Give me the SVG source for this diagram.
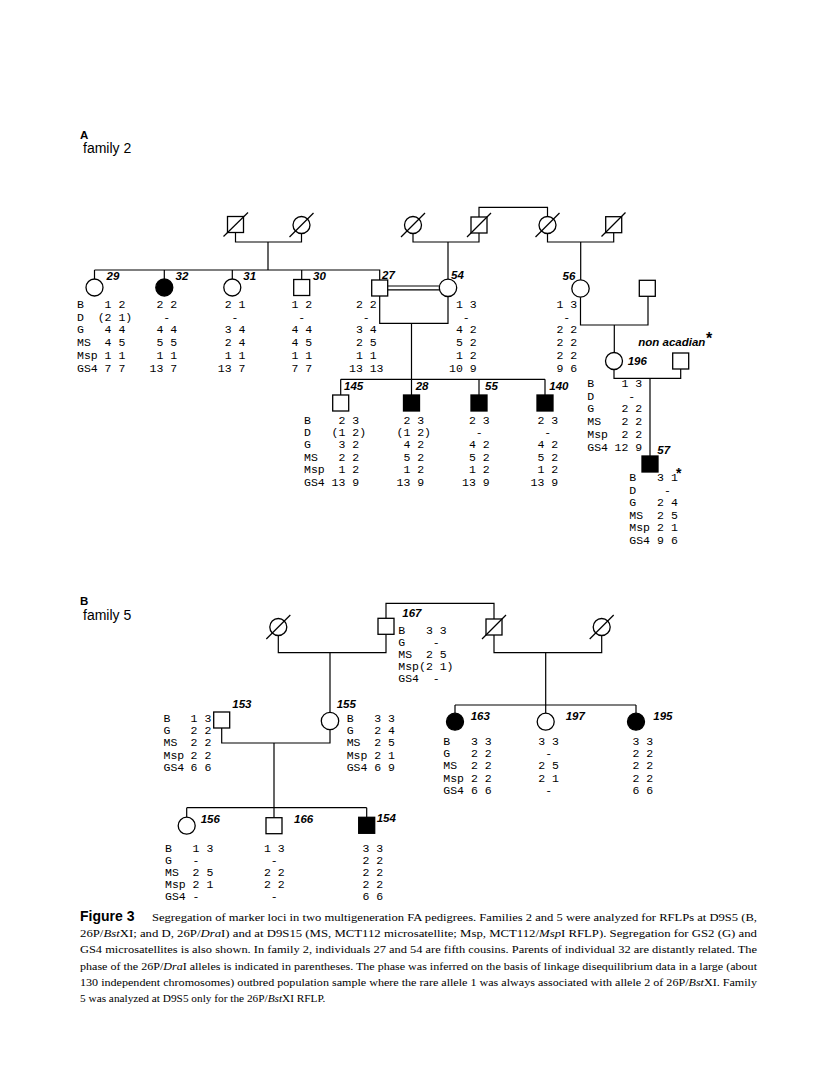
<svg xmlns="http://www.w3.org/2000/svg" width="816" height="1081" viewBox="0 0 816 1081">
<style>
.ln{stroke:#000;stroke-width:1.2;fill:none}
.sym{stroke:#000;stroke-width:1.3;fill:#fff}
.aff{stroke:#000;stroke-width:1.3;fill:#000}
.dec{stroke:#000;stroke-width:1.2}
.id{font-family:"Liberation Sans",Arial,sans-serif;font-weight:bold;font-style:italic;font-size:11.5px}
.dat{font-family:"Liberation Mono","Courier New",monospace;font-size:11.5px;white-space:pre}
.ttl{font-family:"Liberation Sans",Arial,sans-serif;font-size:14px}
.pl{font-family:"Liberation Sans",Arial,sans-serif;font-weight:bold;font-size:11.5px}
.cap{font-family:"Liberation Serif","Times New Roman",serif;font-size:11.3px}
.star{font-family:"Liberation Sans",Arial,sans-serif;font-weight:bold}
</style>
<rect width="816" height="1081" fill="#fff"/>
<text class="pl" x="80" y="138.5">A</text>
<text class="ttl" x="83" y="152.5">family 2</text>
<text class="pl" x="80" y="605">B</text>
<text class="ttl" x="83" y="620">family 5</text>

<g id="connectors">
<path class="ln" d="M235.5,233 V242 H301.5 V233.5 M268,242 V270"/>
<path class="ln" d="M94.5,270 H379.7 V280 M94.5,270 V279 M164.3,270 V279 M232.3,270 V279 M301.7,270 V279.5"/>
<path class="ln" d="M387.7,286 H439.5 M387.7,289.8 H439.5"/>
<path class="ln" d="M413,233.5 V242 H479 V233 M448,242 V279"/>
<path class="ln" d="M479,217 V207.3 H547.5 V216.5"/>
<path class="ln" d="M547.5,233.5 V242 H613.7 V232.7 M580.7,242 V280"/>
<path class="ln" d="M580.5,297 V325 H648 V296.5 M614.3,325 V352.5"/>
<path class="ln" d="M614,369.5 V378.3 H680.7 V369 M650,378.3 V456"/>
<path class="ln" d="M379.7,296 V323.3 H448 V296 M411.5,323.3 V395"/>
<path class="ln" d="M340.7,379.3 H545 M340.7,379.3 V395 M479,379.3 V395 M545,379.3 V395"/>
<path class="ln" d="M386,618.3 V603.3 H494 V619"/>
<path class="ln" d="M278.3,635.5 V652.7 H386 V634.3 M330,652.7 V712.5"/>
<path class="ln" d="M494,635 V652.7 H601.7 V635.5 M545.7,652.7 V713.2"/>
<path class="ln" d="M455,705 H636 M455,705 V713.2 M636,705 V713.2"/>
<path class="ln" d="M221.7,728 V743 H330 V729.5 M274,743 V817.7"/>
<path class="ln" d="M186.7,807.7 H366.7 M186.7,807.7 V817.2 M366.7,807.7 V817.3"/>
</g>

<!-- Family 2 generation I -->
<g id="f2-gp1-father"><rect class="sym" x="227.5" y="216.5" width="16" height="16"/><line class="dec" x1="223.5" y1="236.5" x2="248" y2="212.5"/></g>
<g id="f2-gp1-mother"><circle class="sym" cx="301.5" cy="225" r="8.5"/><line class="dec" x1="289.5" y1="237" x2="313.5" y2="213"/></g>
<g id="f2-gp2-mother"><circle class="sym" cx="413" cy="225" r="8.5"/><line class="dec" x1="401" y1="237" x2="425" y2="213"/></g>
<g id="f2-gp2-father"><rect class="sym" x="471" y="217" width="16" height="16"/><line class="dec" x1="467" y1="237" x2="491" y2="213"/></g>
<g id="f2-gp3-mother"><circle class="sym" cx="547.5" cy="225" r="8.5"/><line class="dec" x1="535.5" y1="237" x2="559.5" y2="213"/></g>
<g id="f2-gp3-father"><rect class="sym" x="605.7" y="216.7" width="16" height="16"/><line class="dec" x1="601.5" y1="236.5" x2="625.5" y2="212.5"/></g>

<!-- Family 2 generation II -->
<g id="n29"><circle class="sym" cx="94.5" cy="287.5" r="8.5"/><text class="id" x="106.5" y="280">29</text>
<text class="dat" xml:space="preserve"><tspan x="77" y="308">B</tspan><tspan x="77" y="320.7">D</tspan><tspan x="77" y="333.4">G</tspan><tspan x="77" y="346.1">MS</tspan><tspan x="77" y="358.8">Msp</tspan><tspan x="77" y="371.5">GS4</tspan></text>
<text class="dat" xml:space="preserve"><tspan x="97.7" y="308"> 1 2</tspan><tspan x="97.7" y="320.7">(2 1)</tspan><tspan x="97.7" y="333.4"> 4 4</tspan><tspan x="97.7" y="346.1"> 4 5</tspan><tspan x="97.7" y="358.8"> 1 1</tspan><tspan x="97.7" y="371.5"> 7 7</tspan></text></g>
<g id="n32"><circle class="aff" cx="164.3" cy="287.5" r="8.5"/><text class="id" x="175.5" y="280">32</text>
<text class="dat" xml:space="preserve"><tspan x="149.5" y="308"> 2 2</tspan><tspan x="149.5" y="320.7">  -</tspan><tspan x="149.5" y="333.4"> 4 4</tspan><tspan x="149.5" y="346.1"> 5 5</tspan><tspan x="149.5" y="358.8"> 1 1</tspan><tspan x="149.5" y="371.5">13 7</tspan></text></g>
<g id="n31"><circle class="sym" cx="232.3" cy="287.5" r="8.5"/><text class="id" x="243.3" y="280">31</text>
<text class="dat" xml:space="preserve"><tspan x="217.8" y="308"> 2 1</tspan><tspan x="217.8" y="320.7">  -</tspan><tspan x="217.8" y="333.4"> 3 4</tspan><tspan x="217.8" y="346.1"> 2 4</tspan><tspan x="217.8" y="358.8"> 1 1</tspan><tspan x="217.8" y="371.5">13 7</tspan></text></g>
<g id="n30"><rect class="sym" x="293.7" y="279.5" width="16" height="16"/><text class="id" x="313" y="280">30</text>
<text class="dat" xml:space="preserve"><tspan x="284.5" y="308"> 1 2</tspan><tspan x="284.5" y="320.7">  -</tspan><tspan x="284.5" y="333.4"> 4 4</tspan><tspan x="284.5" y="346.1"> 4 5</tspan><tspan x="284.5" y="358.8"> 1 1</tspan><tspan x="284.5" y="371.5"> 7 7</tspan></text></g>
<g id="n27"><rect class="sym" x="371.7" y="280" width="16" height="16"/><text class="id" x="382" y="278.5">27</text>
<text class="dat" xml:space="preserve"><tspan x="349" y="308"> 2 2</tspan><tspan x="349" y="320.7">  -</tspan><tspan x="349" y="333.4"> 3 4</tspan><tspan x="349" y="346.1"> 2 5</tspan><tspan x="349" y="358.8"> 1 1</tspan><tspan x="349" y="371.5">13 13</tspan></text></g>
<g id="n54"><circle class="sym" cx="448" cy="287.8" r="8.7"/><text class="id" x="451" y="278.5">54</text>
<text class="dat" xml:space="preserve"><tspan x="449" y="308"> 1 3</tspan><tspan x="449" y="320.7">  -</tspan><tspan x="449" y="333.4"> 4 2</tspan><tspan x="449" y="346.1"> 5 2</tspan><tspan x="449" y="358.8"> 1 2</tspan><tspan x="449" y="371.5">10 9</tspan></text></g>
<g id="n56"><circle class="sym" cx="580.5" cy="288.5" r="8.7"/><text class="id" x="562.5" y="280">56</text>
<text class="dat" xml:space="preserve"><tspan x="549.5" y="308"> 1 3</tspan><tspan x="549.5" y="320.7">  -</tspan><tspan x="549.5" y="333.4"> 2 2</tspan><tspan x="549.5" y="346.1"> 2 2</tspan><tspan x="549.5" y="358.8"> 2 2</tspan><tspan x="549.5" y="371.5"> 9 6</tspan></text></g>
<g id="n56-spouse"><rect class="sym" x="639.3" y="280.3" width="16" height="16"/></g>

<!-- Family 2 generation III -->
<g id="n145"><rect class="sym" x="332.7" y="395" width="16" height="16"/><text class="id" x="344" y="390">145</text>
<text class="dat" xml:space="preserve"><tspan x="304" y="423.5">B</tspan><tspan x="304" y="435.9">D</tspan><tspan x="304" y="448.3">G</tspan><tspan x="304" y="460.7">MS</tspan><tspan x="304" y="473.1">Msp</tspan><tspan x="304" y="485.5">GS4</tspan></text>
<text class="dat" xml:space="preserve"><tspan x="331.6" y="423.5"> 2 3</tspan><tspan x="331.6" y="435.9">(1 2)</tspan><tspan x="331.6" y="448.3"> 3 2</tspan><tspan x="331.6" y="460.7"> 2 2</tspan><tspan x="331.6" y="473.1"> 1 2</tspan><tspan x="331.6" y="485.5">13 9</tspan></text></g>
<g id="n28"><rect class="aff" x="403.5" y="395" width="16" height="16"/><text class="id" x="415.7" y="390">28</text>
<text class="dat" xml:space="preserve"><tspan x="396.5" y="423.5"> 2 3</tspan><tspan x="396.5" y="435.9">(1 2)</tspan><tspan x="396.5" y="448.3"> 4 2</tspan><tspan x="396.5" y="460.7"> 5 2</tspan><tspan x="396.5" y="473.1"> 1 2</tspan><tspan x="396.5" y="485.5">13 9</tspan></text></g>
<g id="n55"><rect class="aff" x="471" y="395" width="16" height="16"/><text class="id" x="485" y="390">55</text>
<text class="dat" xml:space="preserve"><tspan x="462" y="423.5"> 2 3</tspan><tspan x="462" y="435.9">  -</tspan><tspan x="462" y="448.3"> 4 2</tspan><tspan x="462" y="460.7"> 5 2</tspan><tspan x="462" y="473.1"> 1 2</tspan><tspan x="462" y="485.5">13 9</tspan></text></g>
<g id="n140"><rect class="aff" x="537" y="395" width="16" height="16"/><text class="id" x="549.3" y="390">140</text>
<text class="dat" xml:space="preserve"><tspan x="530.5" y="423.5"> 2 3</tspan><tspan x="530.5" y="435.9">  -</tspan><tspan x="530.5" y="448.3"> 4 2</tspan><tspan x="530.5" y="460.7"> 5 2</tspan><tspan x="530.5" y="473.1"> 1 2</tspan><tspan x="530.5" y="485.5">13 9</tspan></text></g>

<g id="n196"><circle class="sym" cx="614" cy="361" r="8.5"/><text class="id" x="627.7" y="365">196</text>
<text class="dat" xml:space="preserve"><tspan x="587.3" y="387">B</tspan><tspan x="587.3" y="399.7">D</tspan><tspan x="587.3" y="412.4">G</tspan><tspan x="587.3" y="425.1">MS</tspan><tspan x="587.3" y="437.8">Msp</tspan><tspan x="587.3" y="450.5">GS4</tspan></text>
<text class="dat" xml:space="preserve"><tspan x="614.5" y="387"> 1 3</tspan><tspan x="614.5" y="399.7">  -</tspan><tspan x="614.5" y="412.4"> 2 2</tspan><tspan x="614.5" y="425.1"> 2 2</tspan><tspan x="614.5" y="437.8"> 2 2</tspan><tspan x="614.5" y="450.5">12 9</tspan></text></g>
<g id="n196-spouse"><rect class="sym" x="672.7" y="353" width="16" height="16"/><text class="id" x="638.3" y="346">non acadian</text><text class="star" x="706" y="344" font-size="16">*</text></g>
<g id="n57"><rect class="aff" x="642" y="456" width="16" height="16"/><text class="id" x="657.3" y="453.5">57</text>
<text class="dat" xml:space="preserve"><tspan x="629.3" y="481">B</tspan><tspan x="629.3" y="493.6">D</tspan><tspan x="629.3" y="506.2">G</tspan><tspan x="629.3" y="518.8">MS</tspan><tspan x="629.3" y="531.4">Msp</tspan><tspan x="629.3" y="544">GS4</tspan></text>
<text class="dat" xml:space="preserve"><tspan x="650.2" y="481"> 3 1</tspan><tspan x="650.2" y="493.6">  -</tspan><tspan x="650.2" y="506.2"> 2 4</tspan><tspan x="650.2" y="518.8"> 2 5</tspan><tspan x="650.2" y="531.4"> 2 1</tspan><tspan x="650.2" y="544"> 9 6</tspan></text>
<text class="star" x="676" y="478" font-size="14">*</text></g>

<!-- Family 5 -->
<g id="f5-gp-mother"><circle class="sym" cx="278.3" cy="627" r="8.5"/><line class="dec" x1="266.3" y1="639" x2="290.3" y2="615"/></g>
<g id="n167"><rect class="sym" x="378" y="618.3" width="16" height="16"/><text class="id" x="402.3" y="616.5">167</text>
<text class="dat" xml:space="preserve"><tspan x="398.3" y="633.5">B</tspan><tspan x="398.3" y="645.7">G</tspan><tspan x="398.3" y="657.9">MS</tspan><tspan x="398.3" y="670.1">Msp</tspan><tspan x="398.3" y="682.3">GS4</tspan></text>
<text class="dat" xml:space="preserve"><tspan x="419" y="633.5"> 3 3</tspan><tspan x="419" y="645.7">  -</tspan><tspan x="419" y="657.9"> 2 5</tspan><tspan x="419" y="670.1">(2 1)</tspan><tspan x="419" y="682.3">  -</tspan></text></g>
<g id="f5-gp2-father"><rect class="sym" x="486" y="619" width="16" height="16"/><line class="dec" x1="482" y1="639" x2="506" y2="615"/></g>
<g id="f5-gp2-mother"><circle class="sym" cx="601.7" cy="627" r="8.5"/><line class="dec" x1="589.7" y1="639" x2="613.7" y2="615"/></g>

<g id="n153"><rect class="sym" x="213.7" y="712" width="16" height="16"/><text class="id" x="232.3" y="707.5">153</text>
<text class="dat" xml:space="preserve"><tspan x="163.5" y="722">B</tspan><tspan x="163.5" y="734.2">G</tspan><tspan x="163.5" y="746.4">MS</tspan><tspan x="163.5" y="758.6">Msp</tspan><tspan x="163.5" y="770.8">GS4</tspan></text>
<text class="dat" xml:space="preserve"><tspan x="183.7" y="722"> 1 3</tspan><tspan x="183.7" y="734.2"> 2 2</tspan><tspan x="183.7" y="746.4"> 2 2</tspan><tspan x="183.7" y="758.6"> 2 2</tspan><tspan x="183.7" y="770.8"> 6 6</tspan></text></g>
<g id="n155"><circle class="sym" cx="330" cy="721" r="8.7"/><text class="id" x="336.7" y="707.5">155</text>
<text class="dat" xml:space="preserve"><tspan x="346.7" y="722">B</tspan><tspan x="346.7" y="734.2">G</tspan><tspan x="346.7" y="746.4">MS</tspan><tspan x="346.7" y="758.6">Msp</tspan><tspan x="346.7" y="770.8">GS4</tspan></text>
<text class="dat" xml:space="preserve"><tspan x="367.4" y="722"> 3 3</tspan><tspan x="367.4" y="734.2"> 2 4</tspan><tspan x="367.4" y="746.4"> 2 5</tspan><tspan x="367.4" y="758.6"> 2 1</tspan><tspan x="367.4" y="770.8"> 6 9</tspan></text></g>
<g id="n163"><circle class="aff" cx="455" cy="721.7" r="8.5"/><text class="id" x="470.7" y="720">163</text>
<text class="dat" xml:space="preserve"><tspan x="443.3" y="744.5">B</tspan><tspan x="443.3" y="756.9">G</tspan><tspan x="443.3" y="769.3">MS</tspan><tspan x="443.3" y="781.7">Msp</tspan><tspan x="443.3" y="794.1">GS4</tspan></text>
<text class="dat" xml:space="preserve"><tspan x="464" y="744.5"> 3 3</tspan><tspan x="464" y="756.9"> 2 2</tspan><tspan x="464" y="769.3"> 2 2</tspan><tspan x="464" y="781.7"> 2 2</tspan><tspan x="464" y="794.1"> 6 6</tspan></text></g>
<g id="n197"><circle class="sym" cx="545.7" cy="721.7" r="8.5"/><text class="id" x="565.7" y="720">197</text>
<text class="dat" xml:space="preserve"><tspan x="531.4" y="744.5"> 3 3</tspan><tspan x="531.4" y="756.9">  -</tspan><tspan x="531.4" y="769.3"> 2 5</tspan><tspan x="531.4" y="781.7"> 2 1</tspan><tspan x="531.4" y="794.1">  -</tspan></text></g>
<g id="n195"><circle class="aff" cx="636" cy="721.7" r="8.5"/><text class="id" x="653.3" y="720">195</text>
<text class="dat" xml:space="preserve"><tspan x="625.5" y="744.5"> 3 3</tspan><tspan x="625.5" y="756.9"> 2 2</tspan><tspan x="625.5" y="769.3"> 2 2</tspan><tspan x="625.5" y="781.7"> 2 2</tspan><tspan x="625.5" y="794.1"> 6 6</tspan></text></g>

<g id="n156"><circle class="sym" cx="186.7" cy="825.7" r="8.5"/><text class="id" x="200.7" y="822.5">156</text>
<text class="dat" xml:space="preserve"><tspan x="165" y="851.5">B</tspan><tspan x="165" y="863.5">G</tspan><tspan x="165" y="875.5">MS</tspan><tspan x="165" y="887.5">Msp</tspan><tspan x="165" y="899.5">GS4</tspan></text>
<text class="dat" xml:space="preserve"><tspan x="185.7" y="851.5"> 1 3</tspan><tspan x="185.7" y="863.5"> -</tspan><tspan x="185.7" y="875.5"> 2 5</tspan><tspan x="185.7" y="887.5"> 2 1</tspan><tspan x="185.7" y="899.5"> -</tspan></text></g>
<g id="n166"><rect class="sym" x="266" y="817.7" width="16" height="16"/><text class="id" x="294" y="822.5">166</text>
<text class="dat" xml:space="preserve"><tspan x="257" y="851.5"> 1 3</tspan><tspan x="257" y="863.5">  -</tspan><tspan x="257" y="875.5"> 2 2</tspan><tspan x="257" y="887.5"> 2 2</tspan><tspan x="257" y="899.5">  -</tspan></text></g>
<g id="n154"><rect class="aff" x="358.7" y="817.3" width="16" height="16"/><text class="id" x="376.7" y="821.5">154</text>
<text class="dat" xml:space="preserve"><tspan x="355.5" y="851.5"> 3 3</tspan><tspan x="355.5" y="863.5"> 2 2</tspan><tspan x="355.5" y="875.5"> 2 2</tspan><tspan x="355.5" y="887.5"> 2 2</tspan><tspan x="355.5" y="899.5"> 6 6</tspan></text></g>

<g id="caption">
<text x="80" y="921" font-family="'Liberation Sans',Arial,sans-serif" font-weight="bold" font-size="14">Figure 3</text>
<text class="cap" x="152" y="921" textLength="605" lengthAdjust="spacingAndGlyphs">Segregation of marker loci in two multigeneration FA pedigrees. Families 2 and 5 were analyzed for RFLPs at D9S5 (B,</text>
<text class="cap" x="80" y="937" textLength="677" lengthAdjust="spacingAndGlyphs">26P/<tspan font-style="italic">Bst</tspan>XI; and D, 26P/<tspan font-style="italic">Dra</tspan>I) and at D9S15 (MS, MCT112 microsatellite; Msp, MCT112/<tspan font-style="italic">Msp</tspan>I RFLP). Segregation for GS2 (G) and</text>
<text class="cap" x="80" y="953" textLength="677" lengthAdjust="spacingAndGlyphs">GS4 microsatellites is also shown. In family 2, individuals 27 and 54 are fifth cousins. Parents of individual 32 are distantly related. The</text>
<text class="cap" x="80" y="969.5" textLength="677" lengthAdjust="spacingAndGlyphs">phase of the 26P/<tspan font-style="italic">Dra</tspan>I alleles is indicated in parentheses. The phase was inferred on the basis of linkage disequilibrium data in a large (about</text>
<text class="cap" x="80" y="985.5" textLength="677" lengthAdjust="spacingAndGlyphs">130 independent chromosomes) outbred population sample where the rare allele 1 was always associated with allele 2 of 26P/<tspan font-style="italic">Bst</tspan>XI. Family</text>
<text class="cap" x="80" y="1001.5">5 was analyzed at D9S5 only for the 26P/<tspan font-style="italic">Bst</tspan>XI RFLP.</text>
</g>
</svg>
